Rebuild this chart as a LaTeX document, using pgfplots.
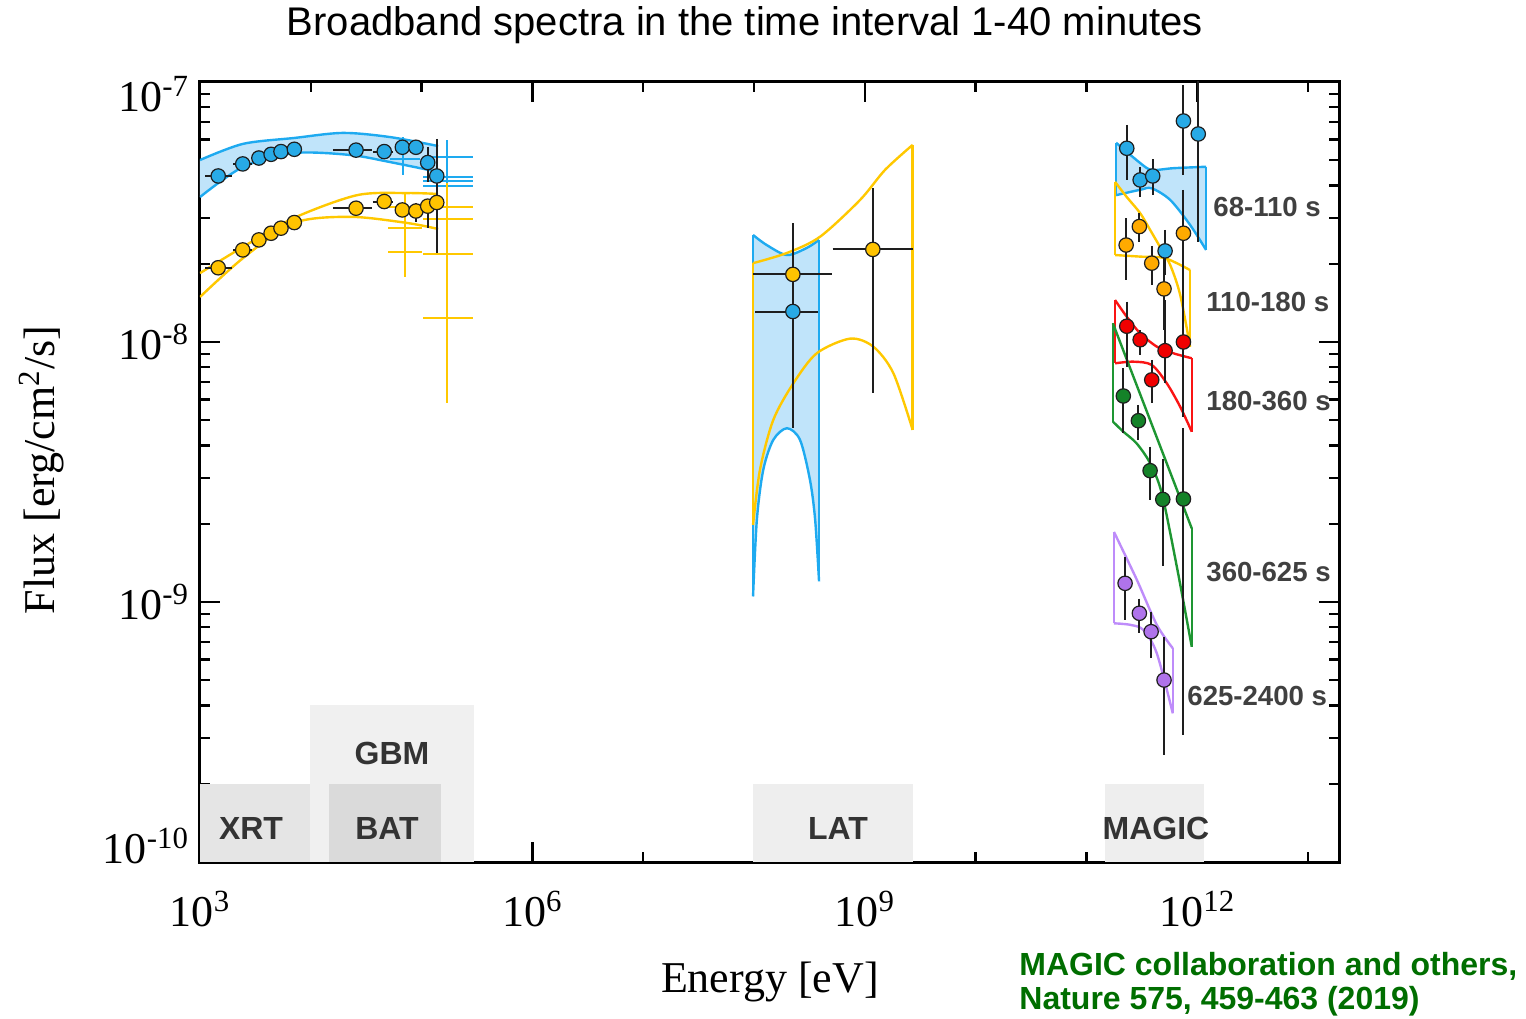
\documentclass[border=0pt]{standalone}
\usepackage{pgfplots}
\pgfplotsset{compat=1.18}
\usepgfplotslibrary{fillbetween}
\usepackage{fontspec}
\setmainfont{Liberation Serif}
\newfontfamily\sansfont{Liberation Sans}

\definecolor{blueLine}{RGB}{30,170,240}
\definecolor{blueFill}{RGB}{192,228,250}
\definecolor{bluePt}{RGB}{40,170,230}
\definecolor{yellowLine}{RGB}{255,200,0}
\definecolor{yellowPt}{RGB}{255,195,0}
\definecolor{orangePt}{RGB}{255,170,0}
\definecolor{redLine}{RGB}{250,20,20}
\definecolor{redPt}{RGB}{240,0,0}
\definecolor{greenLine}{RGB}{30,150,50}
\definecolor{greenPt}{RGB}{20,130,40}
\definecolor{purpleLine}{RGB}{190,140,250}
\definecolor{purplePt}{RGB}{175,115,235}
\definecolor{errGray}{RGB}{30,30,30}
\definecolor{lblGray}{RGB}{64,64,64}
\definecolor{instGray}{RGB}{51,51,51}
\definecolor{boxXRT}{RGB}{229,229,229}
\definecolor{boxGBM}{RGB}{240,240,240}
\definecolor{boxBAT}{RGB}{218,218,218}
\definecolor{boxLAT}{RGB}{238,238,238}
\definecolor{credit}{RGB}{0,110,0}

\pgfplotsset{
  band/.style={line width=1.2pt, smooth, forget plot},
  seg/.style={line width=1.2pt, unbounded coords=jump, forget plot},
  err/.style={errGray, line width=1pt, unbounded coords=jump, forget plot},
  pts/.style={only marks, mark=*, mark size=3.6pt,
    mark options={draw=errGray, line width=0.6pt, fill=#1}, forget plot},
  box/.style={fill=#1, draw=none, forget plot},
}

\begin{document}
\begin{tikzpicture}
\begin{axis}[
  set layers,
  scale only axis, width=569.5pt, height=390pt,
  xmode=log, ymode=log,
  xmin=1e3, xmax=1.9e13, ymin=1e-10, ymax=1e-7,
  axis line style={line width=1.5pt},
  tick style={line width=1.2pt, black},
  major tick length=10pt, minor tick length=5pt,
  tick align=inside,
  xtick={1e3,1e6,1e9,1e12},
  minor xtick={1e4,1e5,1e7,1e8,1e10,1e11,1e13},
  xticklabels={10\textsuperscript{3},10\textsuperscript{6},10\textsuperscript{9},10\textsuperscript{12}},
  ytick={1e-10,1e-9,1e-8,1e-7},
  minor ytick={2e-10,3e-10,4e-10,5e-10,6e-10,7e-10,8e-10,9e-10,
               2e-9,3e-9,4e-9,5e-9,6e-9,7e-9,8e-9,9e-9,
               2e-8,3e-8,4e-8,5e-8,6e-8,7e-8,8e-8,9e-8},
  yticklabels={\raisebox{8pt}[\height][\depth]{10\textsuperscript{-10}},
               10\textsuperscript{-9},10\textsuperscript{-8},
               \raisebox{-6pt}[\height][\depth]{10\textsuperscript{-7}}},
  tick label style={font=\fontsize{22}{26}\selectfont},
  xticklabel style={yshift=-11pt},
  yticklabel style={xshift=-2pt},
]

% instrument energy ranges
\addplot[box=boxGBM] coordinates {(9.84e3,1e-10) (2.97e5,1e-10) (2.97e5,4e-10) (9.84e3,4e-10)};
\addplot[box=boxXRT] coordinates {(1e3,1e-10) (9.84e3,1e-10) (9.84e3,2e-10) (1e3,2e-10)};
\addplot[box=boxBAT] coordinates {(1.46e4,1e-10) (1.50e5,1e-10) (1.50e5,2e-10) (1.46e4,2e-10)};
\addplot[box=boxLAT] coordinates {(9.79e7,1e-10) (2.72e9,1e-10) (2.72e9,2e-10) (9.79e7,2e-10)};
\addplot[box=boxLAT] coordinates {(1.47e11,1e-10) (1.15e12,1e-10) (1.15e12,2e-10) (1.47e11,2e-10)};

% ---------- X-ray / hard X-ray model bands ----------
\addplot[band, blueLine, name path=xU] coordinates {(1e3,5.01e-8) (2.44e3,5.78e-8) (7.05e3,6.09e-8) (1.95e4,6.37e-8) (5.19e4,6.14e-8) (1.41e5,5.67e-8)};
\addplot[band, blueLine, name path=xL] coordinates {(1e3,3.61e-8) (2.44e3,4.71e-8) (7.05e3,5.33e-8) (2.26e4,5.24e-8) (5.19e4,4.92e-8) (1.41e5,4.51e-8)};
\addplot[blueFill, forget plot] fill between[of=xU and xL];
\addplot[band, yellowLine] coordinates {(1e3,1.84e-8) (2.44e3,2.32e-8) (7.05e3,3.00e-8) (2.61e4,3.67e-8) (7.38e4,3.74e-8) (1.41e5,3.71e-8)};
\addplot[band, yellowLine] coordinates {(1e3,1.49e-8) (2.44e3,2.10e-8) (7.05e3,2.87e-8) (2.26e4,3.03e-8) (7.38e4,2.87e-8) (1.41e5,2.72e-8)};

% GBM spectral points
\addplot[seg, blueLine] coordinates {
 (6.79e4,6.14e-8) (6.79e4,4.39e-8) (6.79e4,nan)
 (5.19e4,5.06e-8) (9.68e4,5.06e-8) (9.68e4,nan)
 (1.69e5,5.98e-8) (1.69e5,3.67e-8) (1.69e5,nan)
 (1.03e5,5.15e-8) (2.91e5,5.15e-8) (2.91e5,nan)
 (1.03e5,4.32e-8) (2.91e5,4.32e-8) (2.91e5,nan)
 (1.03e5,4.16e-8) (2.91e5,4.16e-8) (2.91e5,nan)
 (1.03e5,3.98e-8) (2.91e5,3.98e-8)};
\addplot[seg, yellowLine] coordinates {
 (7.08e4,3.74e-8) (7.08e4,1.78e-8) (7.08e4,nan)
 (4.98e4,3.30e-8) (1.01e5,3.30e-8) (1.01e5,nan)
 (4.98e4,2.74e-8) (1.01e5,2.74e-8) (1.01e5,nan)
 (4.98e4,2.22e-8) (1.01e5,2.22e-8) (1.01e5,nan)
 (1.69e5,4.09e-8) (1.69e5,5.82e-9) (1.69e5,nan)
 (1.03e5,3.30e-8) (2.91e5,3.30e-8) (2.91e5,nan)
 (1.03e5,2.97e-8) (2.91e5,2.97e-8) (2.91e5,nan)
 (1.03e5,2.18e-8) (2.91e5,2.18e-8) (2.91e5,nan)
 (1.03e5,1.24e-8) (2.91e5,1.24e-8)};

% XRT / BAT error bars
\addplot[err] coordinates {
 (1.11e3,4.35e-8) (1.94e3,4.35e-8) (1.94e3,nan)
 (1.99e3,4.84e-8) (2.94e3,4.84e-8) (2.94e3,nan)
 (1.58e4,5.47e-8) (3.56e4,5.47e-8) (3.56e4,nan)
 (3.64e4,5.40e-8) (5.52e4,5.40e-8) (5.52e4,nan)
 (1.11e3,1.93e-8) (1.94e3,1.93e-8) (1.94e3,nan)
 (1.99e3,2.26e-8) (2.94e3,2.26e-8) (2.94e3,nan)
 (1.58e4,3.27e-8) (3.56e4,3.27e-8) (3.56e4,nan)
 (3.64e4,3.47e-8) (5.52e4,3.47e-8) (5.52e4,nan)
 (8.89e4,5.89e-8) (8.89e4,5.32e-8) (8.89e4,nan)
 (1.135e5,5.63e-8) (1.135e5,4.14e-8) (1.135e5,nan)
 (1.37e5,6.04e-8) (1.37e5,3.85e-8) (1.37e5,nan)
 (8.89e4,3.43e-8) (8.89e4,2.90e-8) (8.89e4,nan)
 (1.135e5,3.47e-8) (1.135e5,2.74e-8) (1.135e5,nan)
 (1.37e5,3.85e-8) (1.37e5,2.20e-8)};
\addplot[pts=yellowPt] coordinates {(1.46e3,1.93e-8) (2.43e3,2.26e-8) (3.40e3,2.47e-8) (4.38e3,2.62e-8) (5.38e3,2.74e-8) (7.10e3,2.88e-8) (2.56e4,3.27e-8) (4.60e4,3.47e-8) (6.70e4,3.22e-8) (8.89e4,3.19e-8) (1.135e5,3.33e-8) (1.37e5,3.44e-8)};
\addplot[pts=bluePt] coordinates {(1.46e3,4.35e-8) (2.43e3,4.84e-8) (3.40e3,5.10e-8) (4.38e3,5.27e-8) (5.38e3,5.40e-8) (7.10e3,5.51e-8) (2.56e4,5.47e-8) (4.60e4,5.40e-8) (6.70e4,5.61e-8) (8.89e4,5.61e-8) (1.135e5,4.90e-8) (1.37e5,4.35e-8)};

% ---------- Fermi-LAT ----------
\addplot[band, blueLine, name path=lU] coordinates {(9.79e7,2.58e-8) (1.30e8,2.36e-8) (1.98e8,2.16e-8) (2.99e8,2.30e-8) (3.86e8,2.47e-8)};
\addplot[band, blueLine, name path=lL] coordinates {(9.79e7,1.05e-9) (1.06e8,2.07e-9) (1.21e8,3.22e-9) (1.49e8,4.20e-9) (1.98e8,4.66e-9) (2.60e8,4.20e-9) (3.20e8,2.94e-9) (3.56e8,2.07e-9) (3.86e8,1.20e-9)};
\addplot[blueFill, forget plot] fill between[of=lU and lL];
\addplot[seg, blueLine] coordinates {(9.79e7,2.58e-8) (9.79e7,1.05e-9) (9.79e7,nan) (3.86e8,2.47e-8) (3.86e8,1.20e-9)};
\addplot[band, yellowLine] coordinates {(9.79e7,2.01e-8) (1.98e8,2.20e-8) (3.94e8,2.54e-8) (9.06e8,3.52e-8) (1.52e9,4.59e-8) (2.70e9,5.73e-8)};
\addplot[band, yellowLine] coordinates {(9.79e7,1.98e-9) (1.13e8,3.22e-9) (1.49e8,5.01e-9) (2.26e8,6.93e-9) (3.68e8,9.05e-9) (7.35e8,1.03e-8) (1.19e9,9.60e-9) (1.81e9,7.58e-9) (2.70e9,4.59e-9)};
\addplot[seg, yellowLine] coordinates {(9.79e7,2.01e-8) (9.79e7,1.98e-9) (9.79e7,nan) (2.70e9,5.73e-8) (2.70e9,4.59e-9)};
\addplot[err] coordinates {
 (9.79e7,1.82e-8) (5.09e8,1.82e-8) (5.09e8,nan)
 (2.24e8,2.86e-8) (2.24e8,7.69e-9) (2.24e8,nan)
 (1.02e8,1.31e-8) (3.80e8,1.31e-8) (3.80e8,nan)
 (2.24e8,1.89e-8) (2.24e8,4.66e-9) (2.24e8,nan)
 (5.13e8,2.27e-8) (2.70e9,2.27e-8) (2.70e9,nan)
 (1.18e9,3.90e-8) (1.18e9,6.38e-9)};
\addplot[pts=yellowPt] coordinates {(2.24e8,1.82e-8) (1.18e9,2.27e-8)};
\addplot[pts=bluePt] coordinates {(2.24e8,1.31e-8)};

% ---------- MAGIC ----------
% 68-110 s
\addplot[band, blueLine, name path=mU] coordinates {(1.85e11,5.84e-8) (3.05e11,4.88e-8) (3.88e11,4.59e-8) (6.05e11,4.66e-8) (1.20e12,4.72e-8)};
\addplot[band, blueLine, name path=mL] coordinates {(1.85e11,3.67e-8) (3.05e11,3.85e-8) (3.88e11,3.90e-8) (5.69e11,3.52e-8) (8.61e11,2.82e-8) (1.20e12,2.26e-8)};
\addplot[blueFill, forget plot] fill between[of=mU and mL];
\addplot[seg, blueLine] coordinates {(1.85e11,5.84e-8) (1.85e11,3.67e-8) (1.85e11,nan) (1.20e12,4.72e-8) (1.20e12,2.26e-8)};
% 110-180 s
\addplot[band, yellowLine] coordinates {(1.81e11,4.13e-8) (2.31e11,3.61e-8) (3.05e11,3.13e-8) (3.75e11,2.70e-8) (4.61e11,2.32e-8) (5.69e11,1.98e-8) (7.00e11,1.52e-8) (8.61e11,9.60e-9)};
\addplot[band, yellowLine] coordinates {(1.81e11,2.16e-8) (3.05e11,2.13e-8) (5.12e11,2.10e-8) (8.61e11,1.89e-8)};
\addplot[seg, yellowLine] coordinates {(1.81e11,4.13e-8) (1.81e11,2.16e-8) (1.81e11,nan) (8.61e11,1.89e-8) (8.61e11,9.60e-9)};
% 180-360 s
\addplot[band, redLine] coordinates {(1.81e11,1.45e-8) (2.31e11,1.25e-8) (3.05e11,1.08e-8) (4.31e11,9.60e-9) (6.08e11,9.05e-9) (8.91e11,8.66e-9)};
\addplot[band, redLine] coordinates {(1.81e11,8.28e-9) (2.65e11,8.40e-9) (3.88e11,8.16e-9) (5.31e11,6.93e-9) (7.00e11,5.64e-9) (8.91e11,4.52e-9)};
\addplot[seg, redLine] coordinates {(1.81e11,1.45e-8) (1.81e11,8.28e-9) (1.81e11,nan) (8.91e11,8.66e-9) (8.91e11,4.52e-9)};
% 360-625 s
\addplot[band, greenLine] coordinates {(1.73e11,1.18e-8) (3.75e11,5.01e-9) (8.91e11,1.92e-9)};
\addplot[band, greenLine] coordinates {(1.73e11,4.94e-9) (2.15e11,4.52e-9) (2.84e11,4.07e-9) (3.75e11,3.42e-9) (4.78e11,2.62e-9) (6.53e11,1.37e-9) (8.91e11,6.73e-10)};
\addplot[seg, greenLine] coordinates {(1.73e11,1.18e-8) (1.73e11,4.94e-9) (1.73e11,nan) (8.91e11,1.92e-9) (8.91e11,6.73e-10)};
% 625-2400 s
\addplot[band, purpleLine] coordinates {(1.77e11,1.86e-9) (2.84e11,1.22e-9) (4.31e11,8.17e-10) (6.01e11,6.64e-10)};
\addplot[band, purpleLine] coordinates {(1.77e11,8.28e-10) (2.48e11,8.17e-10) (3.27e11,7.80e-10) (4.31e11,6.35e-10) (6.01e11,3.73e-10)};
\addplot[seg, purpleLine] coordinates {(1.77e11,1.86e-9) (1.77e11,8.28e-10) (1.77e11,nan) (6.01e11,6.64e-10) (6.01e11,3.73e-10)};

% MAGIC error bars
\addplot[err] coordinates {
 (2.31e11,6.84e-8) (2.31e11,4.20e-8) (2.31e11,nan)
 (3.05e11,4.72e-8) (3.05e11,3.62e-8) (3.05e11,nan)
 (3.96e11,5.05e-8) (3.96e11,3.68e-8) (3.96e11,nan)
 (5.12e11,2.70e-8) (5.12e11,1.81e-8) (5.12e11,nan)
 (7.50e11,9.74e-8) (7.50e11,4.39e-8) (7.50e11,nan)
 (1.02e12,1.2e-7) (1.02e12,2.43e-8) (1.02e12,nan)
 (2.28e11,2.99e-8) (2.28e11,1.73e-8) (2.28e11,nan)
 (3.00e11,3.13e-8) (3.00e11,2.43e-8) (3.00e11,nan)
 (3.88e11,2.34e-8) (3.88e11,1.66e-8) (3.88e11,nan)
 (5.01e11,2.16e-8) (5.01e11,1.11e-8) (5.01e11,nan)
 (7.50e11,3.85e-8) (7.50e11,9.74e-9) (7.50e11,nan)
 (2.31e11,1.43e-8) (2.31e11,8.04e-9) (2.31e11,nan)
 (3.05e11,1.11e-8) (3.05e11,8.91e-9) (3.05e11,nan)
 (5.12e11,1.45e-8) (5.12e11,6.95e-9) (5.12e11,nan)
 (3.88e11,8.53e-9) (3.88e11,5.83e-9) (3.88e11,nan)
 (7.50e11,1.45e-8) (7.50e11,5.16e-9) (7.50e11,nan)
 (2.15e11,7.92e-9) (2.15e11,4.46e-9) (2.15e11,nan)
 (2.94e11,5.73e-9) (2.94e11,4.20e-9) (2.94e11,nan)
 (3.75e11,3.96e-9) (3.75e11,2.47e-9) (3.75e11,nan)
 (4.88e11,3.54e-9) (4.88e11,1.37e-9) (4.88e11,nan)
 (7.50e11,4.66e-9) (7.50e11,3.08e-10) (7.50e11,nan)
 (2.23e11,1.49e-9) (2.23e11,8.53e-10) (2.23e11,nan)
 (3.00e11,1.03e-9) (3.00e11,7.58e-10) (3.00e11,nan)
 (3.83e11,9.18e-10) (3.83e11,6.07e-10) (3.83e11,nan)
 (5.01e11,7.35e-10) (5.01e11,2.58e-10)};
\addplot[pts=bluePt] coordinates {(2.31e11,5.56e-8) (3.05e11,4.20e-8) (3.96e11,4.35e-8) (5.12e11,2.24e-8) (7.50e11,7.08e-8) (1.02e12,6.31e-8)};
\addplot[pts=orangePt] coordinates {(2.28e11,2.36e-8) (3.00e11,2.78e-8) (3.88e11,2.01e-8) (5.01e11,1.60e-8) (7.50e11,2.62e-8)};
\addplot[pts=redPt] coordinates {(2.31e11,1.15e-8) (3.05e11,1.02e-8) (5.12e11,9.26e-9) (3.88e11,7.15e-9) (7.50e11,1.00e-8)};
\addplot[pts=greenPt] coordinates {(2.15e11,6.20e-9) (2.94e11,4.98e-9) (3.75e11,3.20e-9) (4.88e11,2.48e-9) (7.50e11,2.49e-9)};
\addplot[pts=purplePt] coordinates {(2.23e11,1.18e-9) (3.00e11,9.05e-10) (3.83e11,7.69e-10) (5.01e11,5.01e-10)};
\end{axis}

% instrument names
\begin{scope}[every node/.style={font=\sansfont\bfseries\fontsize{16}{18}\selectfont, text=instGray}]
\node at (25.5pt,17pt) {XRT};
\node at (96pt,54.5pt) {GBM};
\node at (93.5pt,17pt) {BAT};
\node at (319pt,17pt) {LAT};
\node at (478pt,17pt) {MAGIC};
\end{scope}

% time intervals of the MAGIC spectra
\begin{scope}[every node/.style={anchor=west, inner sep=0pt, font=\sansfont\bfseries\fontsize{13.8}{16}\selectfont, text=lblGray}]
\node at (506.5pt,327.5pt) {68-110 s};
\node at (503pt,280pt) {110-180 s};
\node at (503pt,230.5pt) {180-360 s};
\node at (503pt,145pt) {360-625 s};
\node at (493.5pt,83pt) {625-2400 s};
\end{scope}

% titles and axis labels
\node[font=\sansfont\fontsize{20}{24}\selectfont] at (272.5pt,418.5pt) {Broadband spectra in the time interval 1-40 minutes};
\node[font=\fontsize{22}{26}\selectfont] at (285pt,-60pt) {Energy [eV]};
\node[font=\fontsize{22}{26}\selectfont, rotate=90] at (-79pt,196pt) {Flux [erg/cm\textsuperscript{2}/s]};
\node[anchor=west, inner sep=0pt, font=\sansfont\bfseries\fontsize{16}{18}\selectfont, text=credit] at (409.5pt,-52pt) {MAGIC collaboration and others,};
\node[anchor=west, inner sep=0pt, font=\sansfont\bfseries\fontsize{16}{18}\selectfont, text=credit] at (409.5pt,-69.5pt) {Nature 575, 459-463 (2019)};

\pgfresetboundingbox
\path[use as bounding box] (-100pt,-78pt) rectangle (663pt,431pt);
\end{tikzpicture}
\end{document}
